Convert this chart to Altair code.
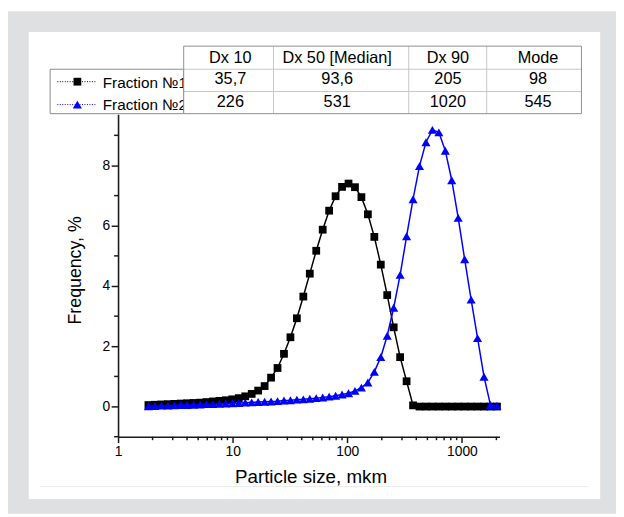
import altair as alt
import pandas as pd

# ---------------- data ----------------
sizes = [1.841, 2.096, 2.386, 2.716, 3.092, 3.521, 4.008, 4.563, 5.194, 5.913,
         6.732, 7.663, 8.724, 9.931, 11.31, 12.87, 14.66, 16.69, 19.00, 21.63,
         24.62, 28.03, 31.91, 36.32, 41.35, 47.08, 53.59, 61.01, 69.46, 79.07,
         90.02, 102.5, 116.7, 132.8, 151.2, 172.2, 196.0, 223.1, 254.0, 289.2,
         329.2, 374.8, 426.6, 485.7, 552.9, 629.5, 716.6, 815.7, 928.7, 1057,
         1204, 1370, 1560, 1776, 2022]

fraction1 = [0.05, 0.06, 0.07, 0.08, 0.09, 0.10, 0.11, 0.12, 0.13, 0.15,
             0.17, 0.19, 0.21, 0.24, 0.28, 0.34, 0.42, 0.53, 0.68, 0.96,
             1.28, 1.75, 2.30, 2.93, 3.65, 4.41, 5.17, 5.87, 6.50, 6.98,
             7.29, 7.40, 7.28, 6.95, 6.38, 5.63, 4.71, 3.70, 2.63, 1.64,
             0.84, 0.04, 0.0, 0.0, 0.0, 0.0, 0.0, 0.0, 0.0, 0.0,
             0.0, 0.0, 0.0, 0.0, 0.0]

fraction2 = [0.01, 0.02, 0.03, 0.03, 0.04, 0.05, 0.05, 0.06, 0.07, 0.08,
             0.08, 0.09, 0.10, 0.11, 0.12, 0.13, 0.14, 0.15, 0.16, 0.17,
             0.18, 0.20, 0.21, 0.23, 0.24, 0.26, 0.28, 0.30, 0.33, 0.36,
             0.40, 0.44, 0.52, 0.63, 0.80, 1.15, 1.64, 2.35, 3.28, 4.37,
             5.65, 6.88, 7.98, 8.77, 9.18, 9.10, 8.49, 7.51, 6.26, 4.89,
             3.55, 2.27, 0.99, 0.05, 0.03]

series_names = ["Fraction \u21161", "Fraction \u21162"]
table_header = ["Dx 10", "Dx 50 [Median]", "Dx 90", "Mode"]
table_row1 = ["35,7", "93,6", "205", "98"]
table_row2 = ["226", "531", "1020", "545"]

x_major_ticks = [1, 10, 100, 1000]
x_minor_ticks = [2, 3, 4, 5, 6, 7, 8, 9, 20, 30, 40, 50, 60, 70, 80, 90,
                 200, 300, 400, 500, 600, 700, 800, 900, 2000]
y_major_ticks = [0, 2, 4, 6, 8]
y_minor_ticks = [-1, 1, 3, 5, 7, 9]

# ---------------- layout (page pixels) ----------------
PX0, PY0 = 119.5, 112.3          # plot origin on the page
PW, PH = 386.5, 326.7            # plot area size
TOTAL_W, TOTAL_H = 616, 509
FONT = "Liberation Sans"
GRAY = "#dfe0e2"


def rx(px):
    return px - PX0


def ry(py):
    return py - PY0


one = alt.Data(values=[{"a": 1}])


def box(x1, y1, x2, y2, fill, stroke=None, sw=1.0):
    kw = dict(fill=fill)
    if stroke:
        kw.update(stroke=stroke, strokeWidth=sw)
    else:
        kw.update(strokeWidth=0)
    return alt.Chart(one).mark_rect(**kw).encode(
        x=alt.value(rx(x1)), x2=alt.value(rx(x2)),
        y=alt.value(ry(y1)), y2=alt.value(ry(y2)))


def seg(x1, y1, x2, y2, color, sw=1.0, dash=None):
    kw = dict(color=color, strokeWidth=sw)
    if dash:
        kw.update(strokeDash=dash)
    return alt.Chart(one).mark_rule(**kw).encode(
        x=alt.value(rx(x1)), x2=alt.value(rx(x2)),
        y=alt.value(ry(y1)), y2=alt.value(ry(y2)))


def label(txt, x, y, size=16.5, align="center"):
    return alt.Chart(one).mark_text(
        text=txt, align=align, baseline="alphabetic", font=FONT,
        fontSize=size, color="black").encode(
        x=alt.value(rx(x)), y=alt.value(ry(y)))


def symbol(shape, color, size, x, y):
    return alt.Chart(one).mark_point(
        shape=shape, filled=True, size=size, color=color, opacity=1,
        strokeWidth=0).encode(x=alt.value(rx(x)), y=alt.value(ry(y)))


xscale = alt.Scale(type="log", domain=[1, 2130], nice=False)
yscale = alt.Scale(domain=[-1, 9.7], nice=False, zero=False)

axis_common = dict(grid=False, domainColor="#1a1a1a", domainWidth=1.6,
                   tickColor="#1a1a1a", tickWidth=1.5, labelFont=FONT,
                   labelFontSize=14, labelColor="black", titleFont=FONT,
                   titleFontWeight="normal", titleColor="black")

xaxis = alt.Axis(values=x_major_ticks, format="d", tickSize=6, labelPadding=2,
                 title="Particle size, mkm", titleFontSize=19,
                 titleX=rx(314.5), titleY=485 - 439, titleAlign="center",
                 titleBaseline="alphabetic", titleAngle=0, labelFlush=False,
                 **axis_common)
yaxis = alt.Axis(values=y_major_ticks, format="d", tickSize=7, labelPadding=1.5,
                 title="Frequency, %", titleFontSize=18,
                 titleX=rx(81.7), titleY=ry(270), titleAlign="center",
                 titleBaseline="alphabetic", titleAngle=270, labelFlush=False,
                 **axis_common)

df1 = pd.DataFrame({"size": sizes, "freq": fraction1})
df2 = pd.DataFrame({"size": sizes, "freq": fraction2})

xenc = alt.X("size:Q", scale=xscale, axis=xaxis)
yenc = alt.Y("freq:Q", scale=yscale, axis=yaxis)

line1 = alt.Chart(df1).mark_line(color="black", strokeWidth=1.5).encode(x=xenc, y=yenc)
pts1 = alt.Chart(df1).mark_point(shape="square", filled=True, size=62, color="black",
                                 opacity=1, strokeWidth=0).encode(x=xenc, y=yenc)
line2 = alt.Chart(df2).mark_line(color="#0000ff", strokeWidth=1.5).encode(x=xenc, y=yenc)
pts2 = alt.Chart(df2).mark_point(shape="triangle-up", filled=True, size=85, color="#0000ff",
                                 opacity=1, strokeWidth=0).encode(x=xenc, y=yenc)

xminor = alt.Chart(pd.DataFrame({"size": x_minor_ticks})).mark_rule(
    color="#1a1a1a", strokeWidth=1.5).encode(
    x=alt.X("size:Q", scale=xscale, axis=xaxis),
    y=alt.value(PH), y2=alt.value(PH + 3.5))
yminor = alt.Chart(pd.DataFrame({"freq": y_minor_ticks})).mark_rule(
    color="#1a1a1a", strokeWidth=1.5).encode(
    y=alt.Y("freq:Q", scale=yscale, axis=yaxis),
    x=alt.value(0), x2=alt.value(-4))

layers = [
    # grey frame around the white card (page coordinates)
    box(8, 8, 624, 29, GRAY),
    box(8, 502, 624, 517, GRAY),
    box(8, 29, 29, 502, GRAY),
    box(608, 29, 624, 502, GRAY),
    seg(40, 489.5, 596, 489.5, "#ececec", 1),
    line1, pts1, line2, pts2, xminor, yminor,
]

# legend box
layers.append(box(50.7, 66.7, 186, 111.7, "white", "#8a8a8a", 1))
leg_y_sym = [79.3, 102.5]
leg_y_txt = [85.5, 107.5]
leg_colors = ["black", "#0000ff"]
leg_shapes = [("square", 62), ("triangle-up", 85)]
for i, name in enumerate(series_names):
    layers.append(seg(58, leg_y_sym[i], 98, leg_y_sym[i], leg_colors[i], 1, [1, 1.5]))
    layers.append(symbol(leg_shapes[i][0], leg_colors[i], leg_shapes[i][1], 78.3, leg_y_sym[i]))
    layers.append(label(name, 104, leg_y_txt[i], 15.5, "left"))

# table
col_edges = [186, 277, 414, 493, 589]
row_edges = [43.3, 66.7, 89.3, 111.7]
col_centers = [233.3, 341.5, 453.7, 545]
row_baselines = [60, 81.7, 104.8]
layers.append(box(col_edges[0], row_edges[0], col_edges[-1], row_edges[-1], "white"))
for xe in col_edges[1:-1]:
    layers.append(seg(xe, row_edges[0], xe, row_edges[-1], "#c6c6c6", 1))
for ye in row_edges[1:-1]:
    layers.append(seg(col_edges[0], ye, col_edges[-1], ye, "#c6c6c6", 1))
layers.append(box(col_edges[0], row_edges[0], col_edges[-1], row_edges[-1],
                  "transparent", "#8f8f8f", 1))
for r, row in enumerate([table_header, table_row1, table_row2]):
    for c, txt in enumerate(row):
        layers.append(label(txt, col_centers[c], row_baselines[r]))

chart = alt.layer(*layers).properties(
    width=PW, height=PH,
    autosize=alt.AutoSizeParams(type="none"),
    padding={"left": PX0 - 8, "top": PY0 - 8,
             "right": TOTAL_W - (PX0 - 8) - PW,
             "bottom": TOTAL_H - (PY0 - 8) - PH},
    background="white",
).configure_view(stroke=None)

chart.save("out.html", embed_options={"renderer": "svg", "actions": False})
